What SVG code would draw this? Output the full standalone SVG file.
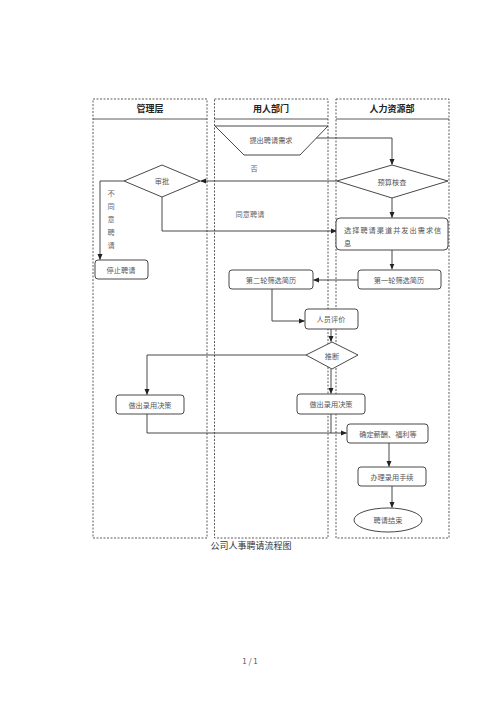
<svg xmlns="http://www.w3.org/2000/svg" width="500" height="707" viewBox="0 0 500 707">
<defs>
<marker id="ah" markerWidth="6" markerHeight="6" refX="5.5" refY="3" orient="auto" markerUnits="userSpaceOnUse">
<path d="M0,0.5 L6,3 L0,5.5 Z" fill="#222"/>
</marker>
<style>
.lane{fill:none;stroke:#333;stroke-width:0.8;stroke-dasharray:2,1.5}
.hdr{stroke:#333;stroke-width:0.8}
.ht{font-family:"Noto Sans CJK SC","Liberation Sans",sans-serif;font-size:9px;font-weight:bold;fill:#222;text-anchor:middle}
.shape{fill:#fff;stroke:#333;stroke-width:0.9}
.t{font-family:"Noto Sans CJK SC","Liberation Sans",sans-serif;font-size:7.2px;fill:#555;text-anchor:middle;dominant-baseline:central}
.lbl{font-family:"Noto Sans CJK SC","Liberation Sans",sans-serif;font-size:7.2px;fill:#666;text-anchor:middle;dominant-baseline:central}
.c{fill:none;stroke:#333;stroke-width:0.9}
.cap{font-family:"Noto Sans CJK SC","Liberation Serif",serif;font-size:9px;fill:#333;text-anchor:middle}
</style>
</defs>
<rect width="500" height="707" fill="#fff"/>
<g id="lanes">
<rect class="lane" x="93" y="99" width="114" height="439"/>
<rect class="lane" x="214.5" y="99" width="113.5" height="439"/>
<rect class="lane" x="336" y="99" width="113" height="439"/>
<line class="hdr" x1="93" y1="119" x2="207" y2="119"/>
<line class="hdr" x1="214.5" y1="119" x2="328" y2="119"/>
<line class="hdr" x1="336" y1="119" x2="449" y2="119"/>
<text class="ht" x="150" y="112">管理层</text>
<text class="ht" x="271" y="112">用人部门</text>
<text class="ht" x="392" y="112">人力资源部</text>
</g>
<g id="connectors">
<path class="c" d="M316,138 H392 V164.5" marker-end="url(#ah)"/>
<path class="c" d="M337,181 H200.5" marker-end="url(#ah)"/>
<path class="c" d="M124,181 H100 V259.5" marker-end="url(#ah)"/>
<path class="c" d="M162,197 V231 H336.5" marker-end="url(#ah)"/>
<path class="c" d="M392,198 V217.5" marker-end="url(#ah)"/>
<path class="c" d="M392,250 V269" marker-end="url(#ah)"/>
<path class="c" d="M358,280 H313.5" marker-end="url(#ah)"/>
<path class="c" d="M272,289 V321 H304.5" marker-end="url(#ah)"/>
<path class="c" d="M331,329 V341.5" marker-end="url(#ah)"/>
<path class="c" d="M306,355 H147 V394.5" marker-end="url(#ah)"/>
<path class="c" d="M331,369 V393.5" marker-end="url(#ah)"/>
<path class="c" d="M147,414 V433 H346.5" marker-end="url(#ah)"/>
<path class="c" d="M331,414 V433"/>
<path class="c" d="M389,443 V466.5" marker-end="url(#ah)"/>
<path class="c" d="M392,486 V507.5" marker-end="url(#ah)"/>
<text class="lbl" x="254" y="168">否</text>
<text class="lbl" x="250" y="214">同意聘请</text>
<text class="lbl" x="111" y="193">不</text>
<text class="lbl" x="111" y="206">同</text>
<text class="lbl" x="111" y="219">意</text>
<text class="lbl" x="111" y="232">聘</text>
<text class="lbl" x="111" y="245">请</text>
</g>
<g id="n_request">
<polygon class="shape" points="215,126 328,126 300,155 244,155"/>
<text class="t" x="271" y="140">提出聘请需求</text>
</g>
<g id="n_budget">
<polygon class="shape" points="337,181 392,165 448,181 392,198"/>
<text class="t" x="392" y="182">预算核查</text>
</g>
<g id="n_approve">
<polygon class="shape" points="124,181 162,165 200,181 162,197"/>
<text class="t" x="162" y="181">审批</text>
</g>
<g id="n_stop">
<rect class="shape" x="95" y="260" width="53" height="19" rx="3"/>
<text class="t" x="121" y="270">停止聘请</text>
</g>
<g id="n_channel">
<rect class="shape" x="336" y="218" width="112" height="32" rx="4"/>
<text class="t" x="344" y="230" style="text-anchor:start;letter-spacing:1px">选择聘请渠道并发出需求信</text>
<text class="t" x="344" y="243" style="text-anchor:start">息</text>
</g>
<g id="n_first">
<rect class="shape" x="358" y="270" width="83" height="19" rx="3"/>
<text class="t" x="399" y="280">第一轮筛选简历</text>
</g>
<g id="n_second">
<rect class="shape" x="229" y="270" width="84" height="19" rx="3"/>
<text class="t" x="271" y="280">第二轮筛选简历</text>
</g>
<g id="n_eval">
<rect class="shape" x="305" y="309" width="53" height="20" rx="3"/>
<text class="t" x="331" y="319">人员评价</text>
</g>
<g id="n_infer">
<polygon class="shape" points="306,355 332,342 358,355 332,369"/>
<text class="t" x="332" y="356">推断</text>
</g>
<g id="n_decide_l">
<rect class="shape" x="116" y="395" width="68" height="19" rx="3"/>
<text class="t" x="150" y="405">做出录用决策</text>
</g>
<g id="n_decide_r">
<rect class="shape" x="297" y="394" width="68" height="20" rx="3"/>
<text class="t" x="331" y="404">做出录用决策</text>
</g>
<g id="n_salary">
<rect class="shape" x="347" y="424" width="81" height="19" rx="3"/>
<text class="t" x="388" y="434">确定薪酬、福利等</text>
</g>
<g id="n_hire">
<rect class="shape" x="358" y="467" width="68" height="19" rx="3"/>
<text class="t" x="392" y="477">办理录用手续</text>
</g>
<g id="n_end">
<ellipse class="shape" cx="388" cy="520" rx="34" ry="12"/>
<text class="t" x="388" y="520">聘请结束</text>
</g>
<text class="cap" x="251" y="549">公司人事聘请流程图</text>
<text class="cap" x="250" y="664" style="font-size:8px;fill:#555">1 / 1</text>
</svg>
